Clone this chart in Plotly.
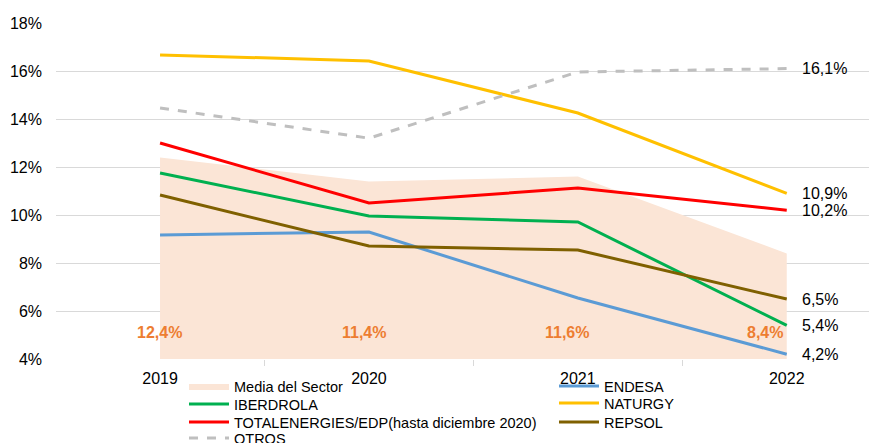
import plotly.graph_objects as go

years = [2019, 2020, 2021, 2022]
media = [12.4, 11.4, 11.6, 8.4]
endesa = [9.17, 9.29, 6.54, 4.2]
iberdrola = [11.75, 9.96, 9.71, 5.4]
naturgy = [16.67, 16.42, 14.25, 10.9]
total = [13.0, 10.5, 11.12, 10.2]
repsol = [10.83, 8.71, 8.54, 6.5]
otros = [14.46, 13.2, 15.96, 16.1]

FONT = "Liberation Sans, Arial, sans-serif"

# figure-pixel geometry (page body adds an 8px offset)
ML, MT, MB, MR = 48, 15, 92, 8
PH = 443 - MT - MB
PW = 877 - ML - MR

def py(p):
    return (443 - MB - p) / PH

def px(p):
    return (p - ML) / PW

fig = go.Figure()
fig.add_trace(go.Scatter(x=years, y=media, name="Media del Sector", mode="lines",
                         line=dict(width=0, color="#FBE5D6"), fill="tozeroy",
                         fillcolor="#FBE5D6", legend="legend"))
series = [
    ("ENDESA", endesa, "#5B9BD5", "solid", "legend5"),
    ("IBERDROLA", iberdrola, "#00B050", "solid", "legend2"),
    ("NATURGY", naturgy, "#FFC000", "solid", "legend6"),
    ("TOTALENERGIES/EDP(hasta diciembre 2020)", total, "#FF0000", "solid", "legend3"),
    ("REPSOL", repsol, "#7F6000", "solid", "legend7"),
    ("OTROS", otros, "#BFBFBF", "dash", "legend4"),
]
for name, vals, col, dash, lg in series:
    fig.add_trace(go.Scatter(x=years, y=vals, name=name, mode="lines", legend=lg,
                             line=dict(color=col, width=3, dash=dash)))

def fmt(v):
    return f"{v:.1f}".replace(".", ",") + "%"

for name, vals, col, dash, lg in series:
    fig.add_annotation(x=years[-1], y=vals[-1], text=fmt(vals[-1]), showarrow=False,
                       xanchor="left", xshift=13, font=dict(size=16, color="#000000", family=FONT))

shifts = [-1, -5, -11, -22]
for x, v, s in zip(years, media, shifts):
    fig.add_annotation(x=x, y=5.1, text="<b>" + fmt(v) + "</b>", showarrow=False,
                       xshift=s, font=dict(size=16, color="#ED7D31", family=FONT))

def leg(xp, yp):
    return dict(orientation="v", xanchor="left", yanchor="middle", x=px(xp), y=py(yp),
                bgcolor="rgba(0,0,0,0)", tracegroupgap=0, itemwidth=40,
                font=dict(size=14.5, family=FONT, color="#000000"))

c1, c2 = 176, 546
fig.update_layout(
    width=877, height=443,
    margin=dict(l=ML, r=MR, t=MT, b=MB, autoexpand=False),
    plot_bgcolor="white", paper_bgcolor="white",
    font=dict(family=FONT, size=16, color="#000000"),
    showlegend=True,
    legend=leg(c1, 378),
    legend2=leg(c1, 396),
    legend3=leg(c1, 414),
    legend4=leg(c1, 430),
    legend5=leg(c2, 378),
    legend6=leg(c2, 395),
    legend7=leg(c2, 414),
    xaxis=dict(range=[2018.502, 2022.432], tickvals=years, ticktext=[str(y) for y in years],
               showgrid=False, zeroline=False, showline=False, ticks="",
               tickfont=dict(size=16), ticklabelstandoff=8,
               minor=dict(tickvals=[2018.5, 2019.5, 2020.5, 2021.5], ticks="outside",
                          ticklen=6, tickcolor="#D9D9D9")),
    yaxis=dict(range=[4, 18], dtick=2, ticksuffix="%", showgrid=True, gridcolor="#D9D9D9",
               gridwidth=1, zeroline=False, showline=False, tickfont=dict(size=16),
               ticklabelstandoff=13),
)
fig.write_html("out.html")
